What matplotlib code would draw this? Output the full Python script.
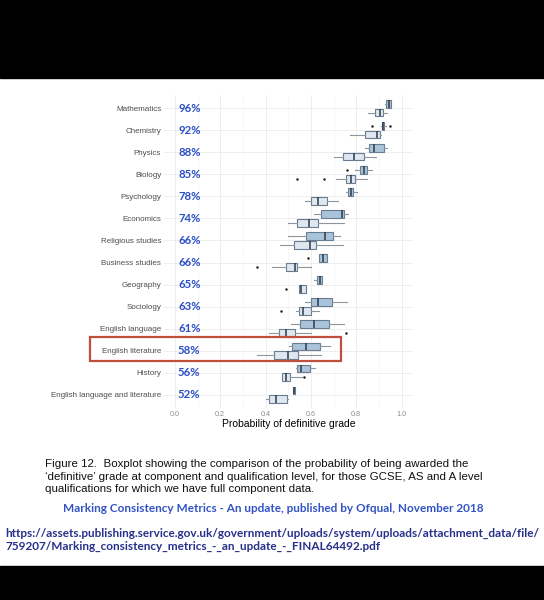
import numpy as np
import matplotlib
matplotlib.use("Agg")
import matplotlib.pyplot as plt
from matplotlib.patches import Rectangle

# subjects, top to bottom, with the headline percentage pasted next to each
subjects = ["Mathematics", "Chemistry", "Physics", "Biology", "Psychology",
            "Economics", "Religious studies", "Business studies", "Geography",
            "Sociology", "English language", "English literature", "History",
            "English language and literature"]
pcts = ["96%", "92%", "88%", "85%", "78%", "74%", "66%", "66%", "65%",
        "63%", "61%", "58%", "56%", "52%"]

# qualification level (blue boxes)
qual_lo = [0.925, 0.908, 0.840, 0.793, 0.754, 0.612, 0.500, 0.636, 0.612, 0.573, 0.510, 0.504, 0.533, 0.521]
qual_q1 = [0.931, 0.912, 0.857, 0.817, 0.765, 0.646, 0.578, 0.636, 0.628, 0.599, 0.551, 0.517, 0.539, 0.521]
qual_med = [0.943, 0.918, 0.879, 0.835, 0.775, 0.735, 0.662, 0.654, 0.642, 0.629, 0.612, 0.580, 0.558, 0.526]
qual_q3 = [0.953, 0.922, 0.921, 0.847, 0.787, 0.746, 0.698, 0.671, 0.650, 0.695, 0.680, 0.642, 0.598, 0.530]
qual_hi = [0.955, 0.930, 0.935, 0.869, 0.805, 0.765, 0.730, 0.671, 0.650, 0.759, 0.745, 0.686, 0.617, 0.530]
qual_out = [[], [0.868, 0.948], [], [0.759], [], [], [], [0.587], [], [], [], [], [], []]

# component level (light boxes)
comp_lo = [0.851, 0.771, 0.700, 0.710, 0.572, 0.500, 0.462, 0.429, 0.548, 0.533, 0.414, 0.363, 0.474, 0.403]
comp_q1 = [0.884, 0.840, 0.741, 0.754, 0.599, 0.540, 0.524, 0.489, 0.548, 0.548, 0.460, 0.436, 0.474, 0.415]
comp_med = [0.903, 0.891, 0.791, 0.778, 0.632, 0.593, 0.596, 0.528, 0.558, 0.565, 0.492, 0.499, 0.488, 0.448]
comp_q3 = [0.918, 0.903, 0.832, 0.796, 0.672, 0.632, 0.622, 0.539, 0.577, 0.602, 0.529, 0.543, 0.507, 0.495]
comp_hi = [0.935, 0.909, 0.888, 0.847, 0.719, 0.746, 0.741, 0.599, 0.577, 0.637, 0.602, 0.646, 0.560, 0.500]
comp_out = [[], [], [], [0.537, 0.658], [], [], [], [0.363], [0.489], [0.466], [0.753], [], [0.570], []]

caption = ["Figure 12.  Boxplot showing the comparison of the probability of being awarded the",
           "\u2018definitive\u2019 grade at component and qualification level, for those GCSE, AS and A level",
           "qualifications for which we have full component data."]
source = "Marking Consistency Metrics - An update, published by Ofqual, November 2018"
url = ["https://assets.publishing.service.gov.uk/government/uploads/system/uploads/attachment_data/file/",
       "759207/Marking_consistency_metrics_-_an_update_-_FINAL64492.pdf"]

W, H = 544, 600


def fx(px):
    return px / W


def fy(py):
    return 1 - py / H


def make_stats(lo, q1, med, q3, hi, out):
    return [dict(whislo=a, q1=b, med=c, q3=d, whishi=e, fliers=f)
            for a, b, c, d, e, f in zip(lo, q1, med, q3, hi, out)]


fig = plt.figure(figsize=(5.44, 6.0), dpi=100)
fig.patch.set_facecolor("white")
# black letterbox bands
fig.patches.append(Rectangle((0, fy(78)), 1, 78 / H, transform=fig.transFigure,
                             color="black", zorder=0))
fig.patches.append(Rectangle((0, 0), 1, (H - 566) / H, transform=fig.transFigure,
                             color="black", zorder=0))

ax = fig.add_axes([fx(164), fy(408), fx(413) - fx(164), (408 - 95) / H])
pos = np.arange(len(subjects))

common = dict(orientation="horizontal", widths=0.34, patch_artist=True,
              manage_ticks=False, showcaps=False,
              whiskerprops=dict(color="#8e959c", linewidth=0.8),
              medianprops=dict(color="#2e3a48", linewidth=1.1),
              flierprops=dict(marker="o", markersize=1.8, markerfacecolor="#222222",
                              markeredgecolor="none"))

ax.bxp(make_stats(qual_lo, qual_q1, qual_med, qual_q3, qual_hi, qual_out),
       positions=pos - 0.2,
       boxprops=dict(facecolor="#a9c3da", edgecolor="#6a7c90", linewidth=0.8), **common)
ax.bxp(make_stats(comp_lo, comp_q1, comp_med, comp_q3, comp_hi, comp_out),
       positions=pos + 0.2,
       boxprops=dict(facecolor="#dfe7f1", edgecolor="#6a7c90", linewidth=0.8), **common)

ax.set_xlim(-0.048, 1.05)
ax.set_ylim(13.6, -0.6)
ax.set_xticks(np.arange(0, 1.01, 0.2))
ax.set_xticks(np.arange(0.1, 1.0, 0.2), minor=True)
ax.set_xticklabels(["0.0", "0.2", "0.4", "0.6", "0.8", "1.0"])
ax.set_yticks(pos)
ax.set_yticklabels(subjects)
ax.grid(which="major", color="#ebebeb", linewidth=0.6)
ax.grid(which="minor", axis="x", color="#f2f2f2", linewidth=0.4)
ax.set_axisbelow(True)
for s in ax.spines.values():
    s.set_visible(False)
ax.tick_params(axis="both", which="both", length=0)
ax.tick_params(axis="x", labelsize=5.2, labelcolor="#8c8c8c", pad=2)
ax.tick_params(axis="y", labelsize=5.8, labelcolor="#4d4d4d", pad=2)
for lab in ax.get_xticklabels() + ax.get_yticklabels():
    lab.set_family("Liberation Sans")
ax.set_xlabel("Probability of definitive grade", fontsize=7.5, family="Liberation Sans",
              labelpad=1)

for i, p in enumerate(pcts):
    ax.text(0.014, i, p, color="#2b4fc6", fontweight="bold", fontsize=8.2,
            family="Lato", va="center", ha="left")

# highlight box round English literature
fig.patches.append(Rectangle((fx(90), fy(361)), fx(341) - fx(90), (361 - 337) / H,
                             transform=fig.transFigure, fill=False,
                             edgecolor="#c0503e", linewidth=1.6, zorder=5))

for k, line in enumerate(caption):
    fig.text(fx(45), fy(464 + 12.5 * k), line, fontsize=8.25, family="Liberation Sans",
             va="center", ha="left", color="#111111")

fig.text(fx(273), fy(509), source, fontsize=8.45, family="Lato", fontweight="bold",
         color="#3153c4", ha="center", va="center")
for k, line in enumerate(url):
    fig.text(fx(5), fy(533 + 13 * k), line, fontsize=8.5, family="Lato",
             fontweight="bold", color="#27308a", ha="left", va="center")

fig.savefig("out.png", dpi=100)
